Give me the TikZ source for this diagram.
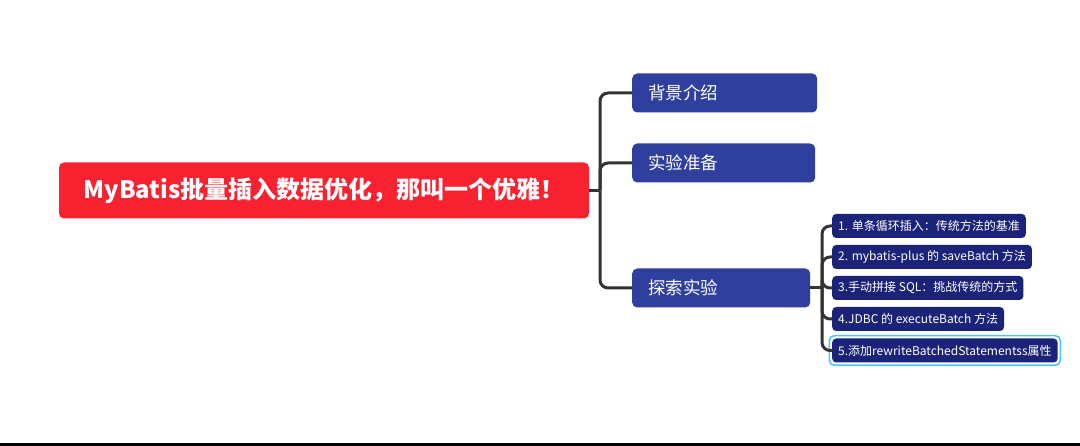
\documentclass[tikz,border=0pt]{standalone}
\usepackage{fontspec}
\setmainfont{Noto Sans CJK SC}
\usepackage{xcolor}
\usepackage{tikz}
\usetikzlibrary{positioning, fit}
\definecolor{merah}{HTML}{F7212F}
\definecolor{biru}{HTML}{2F3F9E}
\definecolor{nila}{HTML}{1B2379}
\definecolor{sian}{HTML}{4FC3F7}
\definecolor{abu}{HTML}{333333}

\begin{document}
\begin{tikzpicture}[
    x=1pt, y=-1pt,
    akar/.style={fill=merah, text=white, rounded corners=5pt,
                 minimum width=530pt, minimum height=56pt,
                 font=\fontsize{24}{27}\selectfont\bfseries},
    cabang/.style={fill=biru, text=white, rounded corners=5pt, anchor=west,
                   minimum height=39pt, inner xsep=16pt, align=left,
                   font=\fontsize{17.5}{20}\selectfont},
    ranting/.style={fill=nila, text=white, rounded corners=4pt, anchor=west,
                    minimum height=24pt, inner xsep=6pt,
                    font=\fontsize{12}{14}\selectfont},
    garis/.style={draw=abu, line width=3pt, rounded corners=8pt}
  ]
    \useasboundingbox (0,0) rectangle (1080,446);
    \fill[black] (0,443) rectangle (1080,446);

    \node[akar] (judul) at (324,190.5) {MyBatis批量插入数据优化，那叫一个优雅！};

    \node[cabang, text width=153pt] (latar) at (632,93) {背景介绍};
    \node[cabang, text width=151pt] (siap) at (632,163) {实验准备};
    \node[cabang, text width=146pt] (eksplor) at (632,288) {探索实验};

    \node[ranting] (cara1) at (832,226) {1. 单条循环插入：传统方法的基准};
    \node[ranting] (cara2) at (832,257) {2. mybatis-plus 的 saveBatch 方法};
    \node[ranting] (cara3) at (832,288) {3.手动拼接 SQL：挑战传统的方式};
    \node[ranting] (cara4) at (832,319) {4.JDBC 的 executeBatch 方法};
    \node[ranting] (cara5) at (832,350.5) {5.添加rewriteBatchedStatementss属性};
    \node[draw=sian, line width=1.6pt, rounded corners=5pt, inner sep=2.6pt,
          fit=(cara5)] (pilih) {};

    % cabang utama
    \coordinate (simpul1) at (600,190.5);
    \draw[garis] (judul.east) -- (simpul1);
    \draw[garis] (simpul1) |- (latar.west);
    \draw[garis] (simpul1) |- (siap.west);
    \draw[garis] (simpul1) |- (eksplor.west);

    % ranting eksperimen
    \coordinate (simpul2) at (822,288);
    \draw[garis] (eksplor.east) -- (simpul2);
    \foreach \i in {1,...,5}
      \draw[garis] (simpul2) |- (cara\i.west);
  \end{tikzpicture}
\end{document}
